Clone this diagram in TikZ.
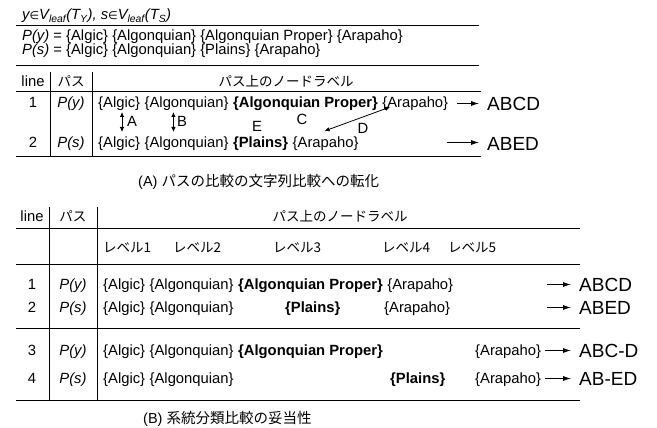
\documentclass[tikz,border=0pt]{standalone}
\usepackage{fontspec}
\setmainfont{Liberation Sans}
\newfontfamily\jpfont{Noto Sans CJK JP}
\newfontfamily\dvfont{DejaVu Sans}
\usetikzlibrary{arrows.meta}
\begin{document}
\begin{tikzpicture}[x=1pt,y=-1pt,
  txt/.style={inner sep=0pt, anchor=base west, font=\fontsize{14.8}{15}\selectfont},
  ctxt/.style={inner sep=0pt, anchor=base, font=\fontsize{14.8}{15}\selectfont},
  jtxt/.style={inner sep=0pt, anchor=base, font=\fontsize{13.5}{15}\jpfont},
  jl/.style={inner sep=0pt, anchor=base west, font=\fontsize{13.5}{15}\jpfont},
  captxt/.style={inner sep=0pt, anchor=base west, font=\fontsize{14.5}{15}\selectfont},
  restxt/.style={inner sep=0pt, anchor=base west, font=\fontsize{19}{20}\selectfont},
  lab/.style={inner sep=0pt, font=\fontsize{14.8}{15}\selectfont},
  hrule/.style={line width=1pt},
  resarrow/.style={line width=0.8pt, -{Latex[length=8pt,width=5pt]}, shorten >=8pt},
  dblarrow/.style={line width=0.8pt, {Latex[length=5pt,width=4.5pt]}-{Latex[length=5pt,width=4.5pt]}},
]
\useasboundingbox (0,0) rectangle (657,428);

% ---------- top block ----------
\node[txt] (title) at (22,20) {\itshape y{\fontsize{11}{12}\dvfont ∈}V\textsubscript{leaf}(T\textsubscript{Y}), s{\fontsize{11}{12}\dvfont ∈}V\textsubscript{leaf}(T\textsubscript{S})};
\coordinate (t0a) at (16,26); \coordinate (t0b) at (479,26);
\draw[hrule] (t0a) -- (t0b);
\node[txt] (py) at (22,41) {\textit{P(y)} = \{Algic\} \{Algonquian\} \{Algonquian Proper\} \{Arapaho\}};
\node[txt] (ps) at (22,54.5) {\textit{P(s)} = \{Algic\} \{Algonquian\} \{Plains\} \{Arapaho\}};
\coordinate (t1a) at (16,65.5); \coordinate (t1b) at (479,65.5);
\draw[hrule] (t1a) -- (t1b);

% ---------- table A ----------
\node[ctxt] (ahl) at (33,87) {line};
\node[jtxt] (ahp) at (71,87) {パス};
\node[jtxt] (ahn) at (286,87) {パス上のノードラベル};
\coordinate (a1a) at (16,92); \coordinate (a1b) at (481,92);
\coordinate (a2a) at (16,157); \coordinate (a2b) at (481,157);
\draw[hrule] (a1a) -- (a1b);
\draw[hrule] (a2a) -- (a2b);
\coordinate (av1a) at (50,72); \coordinate (av1b) at (50,157);
\coordinate (av2a) at (92,72); \coordinate (av2b) at (92,157);
\draw[hrule] (av1a) -- (av1b);
\draw[hrule] (av2a) -- (av2b);

\node[ctxt] (an1) at (33,108) {1};
\node[ctxt] (ap1) at (71,108) {\itshape P(y)};
\node[txt] (r1a) at (98,108) {\{Algic\}};
\node[txt] (r1b) at ([xshift=4.1pt]r1a.base east) {\{Algonquian\}};
\node[txt] (r1c) at ([xshift=4.1pt]r1b.base east) {\bfseries\{Algonquian Proper\}};
\node[txt] (r1d) at ([xshift=4.1pt]r1c.base east) {\{Arapaho\}};

\node[ctxt] (an2) at (33,147) {2};
\node[ctxt] (ap2) at (71,147) {\itshape P(s)};
\node[txt] (r2a) at (98,147) {\{Algic\}};
\node[txt] (r2b) at ([xshift=4.1pt]r2a.base east) {\{Algonquian\}};
\node[txt] (r2c) at ([xshift=4.1pt]r2b.base east) {\bfseries\{Plains\}};
\node[txt] (r2d) at ([xshift=4.1pt]r2c.base east) {\{Arapaho\}};

\draw[dblarrow] ([shift={(24,4)}]r1a.base west) -- ([shift={(24,-15)}]r2a.base west);
\draw[dblarrow] ([shift={(29,4)}]r1b.base west) -- ([shift={(29,-15)}]r2b.base west);
\draw[dblarrow] ([shift={(8,-1)}]r1d.base west) -- ([shift={(32,-16)}]r2d.base west);
\node[lab, anchor=west] (lA) at (127,121) {A};
\node[lab, anchor=west] (lB) at (177,121) {B};
\node[lab] (lC) at (302,119) {C};
\node[lab] (lE) at (257,126.5) {E};
\node[lab] (lD) at (363,128) {D};

\node[restxt] (ra1) at (487,111) {ABCD};
\node[restxt] (ra2) at (487,150) {ABED};
\coordinate (ca1) at (457,103.5);
\coordinate (ca2) at (447,142.5);
\draw[resarrow] (ca1) -- (ca1 -| ra1.west);
\draw[resarrow] (ca2) -- (ca2 -| ra2.west);

\node[captxt] (capA) at (138,186) {(A) {\jpfont パスの比較の文字列比較への転化}};

% ---------- table B ----------
\node[ctxt] (bhl) at (32,222) {line};
\node[jtxt] (bhp) at (73,222) {パス};
\node[jtxt] (bhn) at (340,222) {パス上のノードラベル};
\coordinate (b1a) at (16,228); \coordinate (b1b) at (580,228);
\coordinate (b2a) at (16,264); \coordinate (b2b) at (580,264);
\coordinate (b3a) at (16,328); \coordinate (b3b) at (580,328);
\coordinate (b4a) at (16,400); \coordinate (b4b) at (580,400);
\draw[hrule] (b1a) -- (b1b);
\draw[hrule] (b2a) -- (b2b);
\draw[hrule] (b3a) -- (b3b);
\draw[hrule] (b4a) -- (b4b);
\coordinate (bv1a) at (49,207); \coordinate (bv1b) at (49,400);
\coordinate (bv2a) at (97,207); \coordinate (bv2b) at (97,400);
\draw[hrule] (bv1a) -- (bv1b);
\draw[hrule] (bv2a) -- (bv2b);

\node[jl] (lv1) at (103,252) {レベル1};
\node[jl] (lv2) at (173,252) {レベル2};
\node[jl] (lv3) at (273,252) {レベル3};
\node[jl] (lv4) at (382,252) {レベル4};
\node[jl] (lv5) at (448,252) {レベル5};

% row 1
\node[ctxt] (bn1) at (32,289) {1};
\node[ctxt] (bp1) at (73,289) {\itshape P(y)};
\node[txt] (s1a) at (103,289) {\{Algic\}};
\node[txt] (s1b) at ([xshift=4.1pt]s1a.base east) {\{Algonquian\}};
\node[txt] (s1c) at ([xshift=4.1pt]s1b.base east) {\bfseries\{Algonquian Proper\}};
\node[txt] (s1d) at ([xshift=4.1pt]s1c.base east) {\{Arapaho\}};
% row 2
\node[ctxt] (bn2) at (32,312) {2};
\node[ctxt] (bp2) at (73,312) {\itshape P(s)};
\node[txt] (s2a) at (103,312) {\{Algic\}};
\node[txt] (s2b) at ([xshift=4.1pt]s2a.base east) {\{Algonquian\}};
\node[txt] (s2c) at (285,312) {\bfseries\{Plains\}};
\node[txt] (s2d) at (384,312) {\{Arapaho\}};
% row 3
\node[ctxt] (bn3) at (32,355) {3};
\node[ctxt] (bp3) at (73,355) {\itshape P(y)};
\node[txt] (s3a) at (103,355) {\{Algic\}};
\node[txt] (s3b) at ([xshift=4.1pt]s3a.base east) {\{Algonquian\}};
\node[txt] (s3c) at ([xshift=4.1pt]s3b.base east) {\bfseries\{Algonquian Proper\}};
\node[txt] (s3d) at (475,355) {\{Arapaho\}};
% row 4
\node[ctxt] (bn4) at (32,383) {4};
\node[ctxt] (bp4) at (73,383) {\itshape P(s)};
\node[txt] (s4a) at (103,383) {\{Algic\}};
\node[txt] (s4b) at ([xshift=4.1pt]s4a.base east) {\{Algonquian\}};
\node[txt] (s4c) at (390,383) {\bfseries\{Plains\}};
\node[txt] (s4d) at (475,383) {\{Arapaho\}};

\node[restxt] (rb1) at (579,291) {ABCD};
\node[restxt] (rb2) at (579,314) {ABED};
\node[restxt] (rb3) at (579,357) {ABC-D};
\node[restxt] (rb4) at (579,385) {AB-ED};
\coordinate (cb1) at (547,284.5);
\coordinate (cb2) at (547,307.5);
\coordinate (cb3) at (545,350.5);
\coordinate (cb4) at (545,378.5);
\draw[resarrow] (cb1) -- (cb1 -| rb1.west);
\draw[resarrow] (cb2) -- (cb2 -| rb2.west);
\draw[resarrow] (cb3) -- (cb3 -| rb3.west);
\draw[resarrow] (cb4) -- (cb4 -| rb4.west);

\node[captxt] (capB) at (143,423) {(B) {\jpfont 系統分類比較の妥当性}};
\end{tikzpicture}
\end{document}
